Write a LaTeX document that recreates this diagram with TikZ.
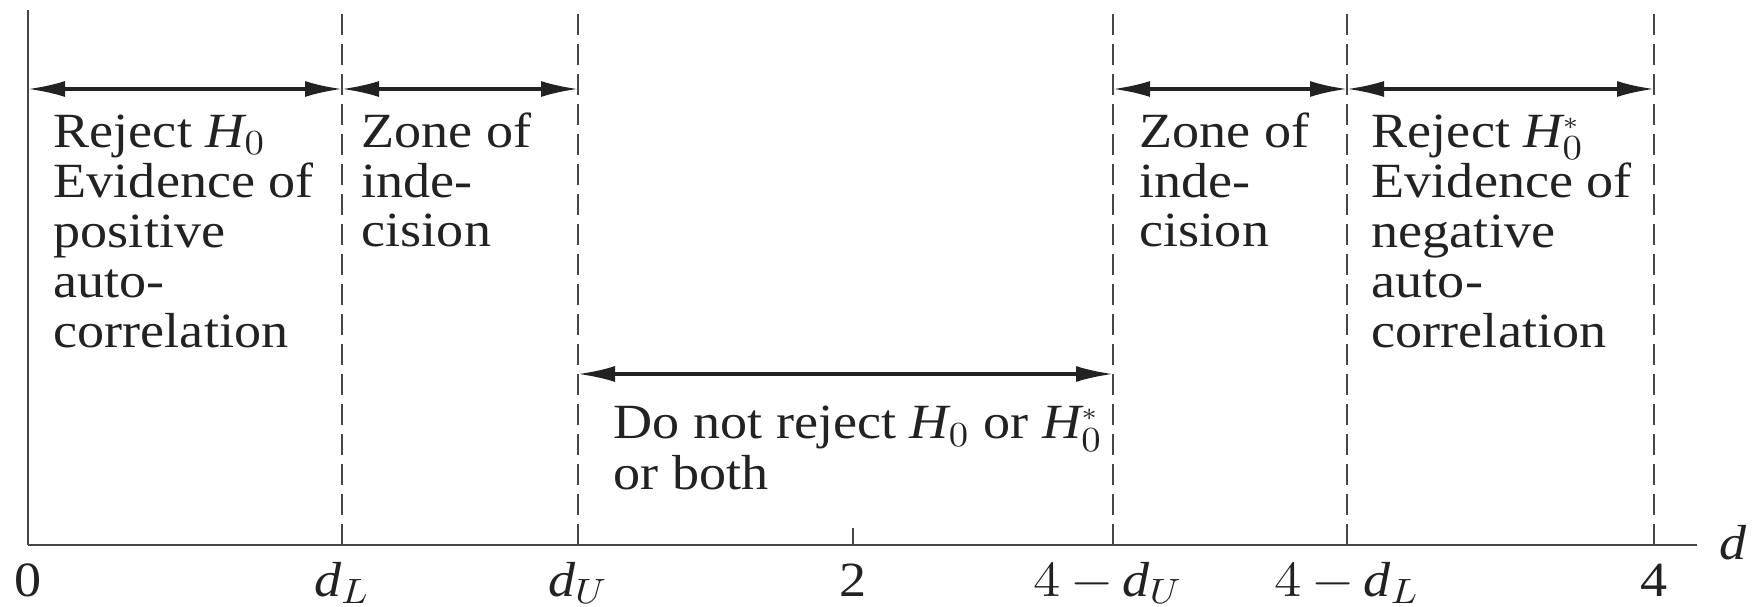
\documentclass[tikz,border=0pt]{standalone}
\usepackage{fontspec}
\setmainfont{Liberation Serif}
\usetikzlibrary{arrows.meta,positioning,calc}
\definecolor{inkgray}{HTML}{222222}
\definecolor{rulegray}{HTML}{454545}
\newcommand{\hnull}{\mathit{H}_0}
\newcommand{\hstar}{\mathit{H}_0^{\scriptscriptstyle *}}
\tikzset{
  axisline/.style={draw=rulegray, line width=0.7pt},
  zoneline/.style={draw=rulegray, line width=0.6pt, dash pattern=on 2.1mm off 0.9mm},
  reach/.style={{Latex[length=3.7mm,width=1.6mm]}-{Latex[length=3.7mm,width=1.6mm]},
    line width=0.9pt, color=inkgray},
  zonetext/.style={anchor=base west, align=left, inner sep=0pt, xscale=1.1,
    font=\fontsize{14}{14.2}\selectfont, text=inkgray},
  ticklab/.style={anchor=base, inner sep=0pt, xscale=1.1,
    font=\fontsize{14}{14}\selectfont, text=inkgray},
}
\begin{document}
\begin{tikzpicture}[x=1cm,y=1cm]
  \useasboundingbox (0,0) rectangle (17.56,6.06);
  % heights (texts sit on their last line)
  \coordinate (top) at (0,5.96);
  \coordinate (arr) at (0,5.17);
  \coordinate (mid) at (0,2.32);
  \coordinate (five) at (0,2.59);
  \coordinate (three) at (0,3.59);
  \coordinate (lab) at (0,0.10);
  % bounds on the d axis
  \coordinate (b0) at (0.28,0.61);
  \coordinate (bL) at (3.42,0.61);
  \coordinate (bU) at (5.78,0.61);
  \coordinate (b2) at (8.53,0.61);
  \coordinate (cU) at (11.13,0.61);
  \coordinate (cL) at (13.47,0.61);
  \coordinate (b4) at (16.54,0.61);
  \coordinate (dend) at (16.97,0.61);
  \node[ticklab] (t0) at (b0 |- lab) {0};
  \node[ticklab] (tL) at (bL |- lab) {$\mathit{d}_L$};
  \node[ticklab] (tU) at (bU |- lab) {$\mathit{d}_U$};
  \node[ticklab] (t2) at (b2 |- lab) {2};
  \node[ticklab] (sU) at ($(cU |- lab)+(-0.05,0)$) {$4\,{-}\,\mathit{d}_U$};
  \node[ticklab] (sL) at ($(cL |- lab)+(0,0)$) {$4\,{-}\,\mathit{d}_L$};
  \node[ticklab] (t4) at (b4 |- lab) {4};
  \node[ticklab] (dlab) at (17.33,0.47) {$\mathit{d}$};
  % axis and zone borders
  \draw[axisline] (b0) -- (dend);
  \draw[axisline] (b0) -- (b0 |- top);
  \draw[axisline] (b2) -- ++(0,0.17);
  \draw[zoneline] (bL) -- (bL |- top);
  \draw[zoneline] (bU) -- (bU |- top);
  \draw[zoneline] (cU) -- (cU |- top);
  \draw[zoneline] (cL) -- (cL |- top);
  \draw[zoneline] (b4) -- (b4 |- top);
  % spans
  \draw[reach] (b0 |- arr) -- (bL |- arr);
  \draw[reach] (bL |- arr) -- (bU |- arr);
  \draw[reach] (cU |- arr) -- (cL |- arr);
  \draw[reach] (cL |- arr) -- (b4 |- arr);
  \draw[reach] (bU |- mid) -- (cU |- mid);
  % zone texts
  \node[zonetext] (zrej) at ($(b0 |- five)+(0.25,0)$)
      {Reject $\hnull$\\Evidence of\\positive\\auto-\\correlation};
  \node[zonetext] (zind) at ($(bL |- three)+(0.19,0)$) {Zone of\\inde-\\cision};
  \node[zonetext, font=\fontsize{14}{13}\selectfont] (znot) at ($(bU |- mid)+(0.35,-1.15)$)
      {Do not reject $\hnull$ or $\hstar$\\or both};
  \node[zonetext] (zinu) at ($(cU |- three)+(0.26,0)$) {Zone of\\inde-\\cision};
  \node[zonetext] (zreu) at ($(cL |- five)+(0.24,0)$)
      {Reject $\hstar$\\Evidence of\\negative\\auto-\\correlation};
\end{tikzpicture}
\end{document}
